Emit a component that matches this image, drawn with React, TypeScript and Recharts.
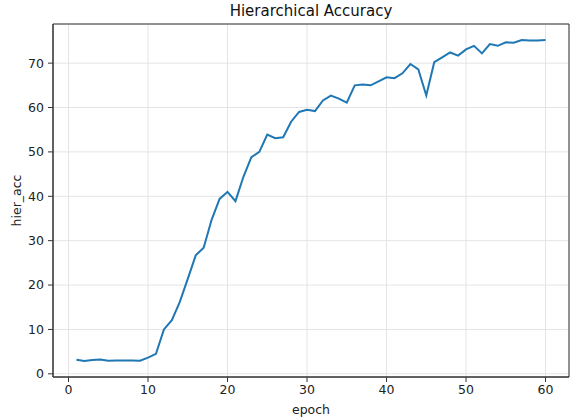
import { LineChart, Line, XAxis, YAxis, CartesianGrid, ReferenceArea } from 'recharts';

// hierarchical accuracy per training epoch
const epochs = [
  1, 2, 3, 4, 5, 6, 7, 8, 9, 10,
  11, 12, 13, 14, 15, 16, 17, 18, 19, 20,
  21, 22, 23, 24, 25, 26, 27, 28, 29, 30,
  31, 32, 33, 34, 35, 36, 37, 38, 39, 40,
  41, 42, 43, 44, 45, 46, 47, 48, 49, 50,
  51, 52, 53, 54, 55, 56, 57, 58, 59, 60,
];

const hierAcc = [
  3.15, 2.9, 3.1, 3.2, 2.95, 3.0, 3.0, 3.0, 2.95, 3.65,
  4.5, 10.0, 12.1, 16.2, 21.4, 26.7, 28.4, 34.7, 39.4, 41.0,
  38.9, 44.4, 48.8, 50.0, 53.9, 53.1, 53.3, 56.8, 59.0, 59.5,
  59.2, 61.6, 62.7, 62.0, 61.1, 65.0, 65.2, 65.0, 65.9, 66.8,
  66.6, 67.7, 69.8, 68.6, 62.7, 70.2, 71.3, 72.4, 71.7, 73.1,
  73.9, 72.2, 74.3, 73.9, 74.7, 74.6, 75.2, 75.1, 75.1, 75.2,
];

const xTicks = [0, 10, 20, 30, 40, 50, 60];
const yTicks = [0, 10, 20, 30, 40, 50, 60, 70];

const data = epochs.map((epoch, i) => ({ epoch, hier_acc: hierAcc[i] }));

// 5% padding on each side, like matplotlib's default autoscale margins
function padded(values: number[]): [number, number] {
  const lo = Math.min(...values);
  const hi = Math.max(...values);
  const pad = (hi - lo) * 0.05;
  return [lo - pad, hi + pad];
}

const xDomain = padded(epochs);
const yDomain = padded(hierAcc);

const FONT = 'DejaVu Sans, sans-serif';
const tickStyle = { fill: '#222', fontSize: 12.5, fontFamily: FONT };

export default function App() {
  return (
    <div style={{ position: 'absolute', left: 0, top: 0, width: 571, height: 417, background: '#fff' }}>
      <div
        style={{
          position: 'absolute',
          left: 53,
          width: 516,
          top: 2,
          textAlign: 'center',
          fontFamily: FONT,
          fontSize: 15,
          color: '#111',
        }}
      >
        Hierarchical Accuracy
      </div>
      <LineChart width={571} height={417} data={data} margin={{ top: 24, right: 2, bottom: 0, left: 0 }}>
        <CartesianGrid stroke="#e4e4e4" vertical horizontal />
        <XAxis
          dataKey="epoch"
          type="number"
          domain={xDomain}
          ticks={xTicks}
          allowDataOverflow
          height={40}
          tick={tickStyle}
          tickSize={5}
          tickMargin={3}
          stroke="#333"
          label={{ value: 'epoch', position: 'insideBottom', offset: 3, style: { fill: '#222', fontSize: 12.5, fontFamily: FONT } }}
        />
        <YAxis
          type="number"
          domain={yDomain}
          ticks={yTicks}
          allowDataOverflow
          width={53}
          tick={tickStyle}
          tickSize={5}
          tickMargin={4}
          stroke="#333"
          label={{
            value: 'hier_acc',
            angle: -90,
            position: 'insideLeft',
            offset: 17,
            textAnchor: 'middle',
            style: { fill: '#222', fontSize: 12.5, fontFamily: FONT, textAnchor: 'middle' },
          }}
        />
        <ReferenceArea
          x1={xDomain[0]}
          x2={xDomain[1]}
          y1={yDomain[0]}
          y2={yDomain[1]}
          fill="none"
          stroke="#333"
          strokeWidth={1}
        />
        <Line
          dataKey="hier_acc"
          type="linear"
          stroke="#1f77b4"
          strokeWidth={2}
          dot={false}
          isAnimationActive={false}
        />
      </LineChart>
    </div>
  );
}
